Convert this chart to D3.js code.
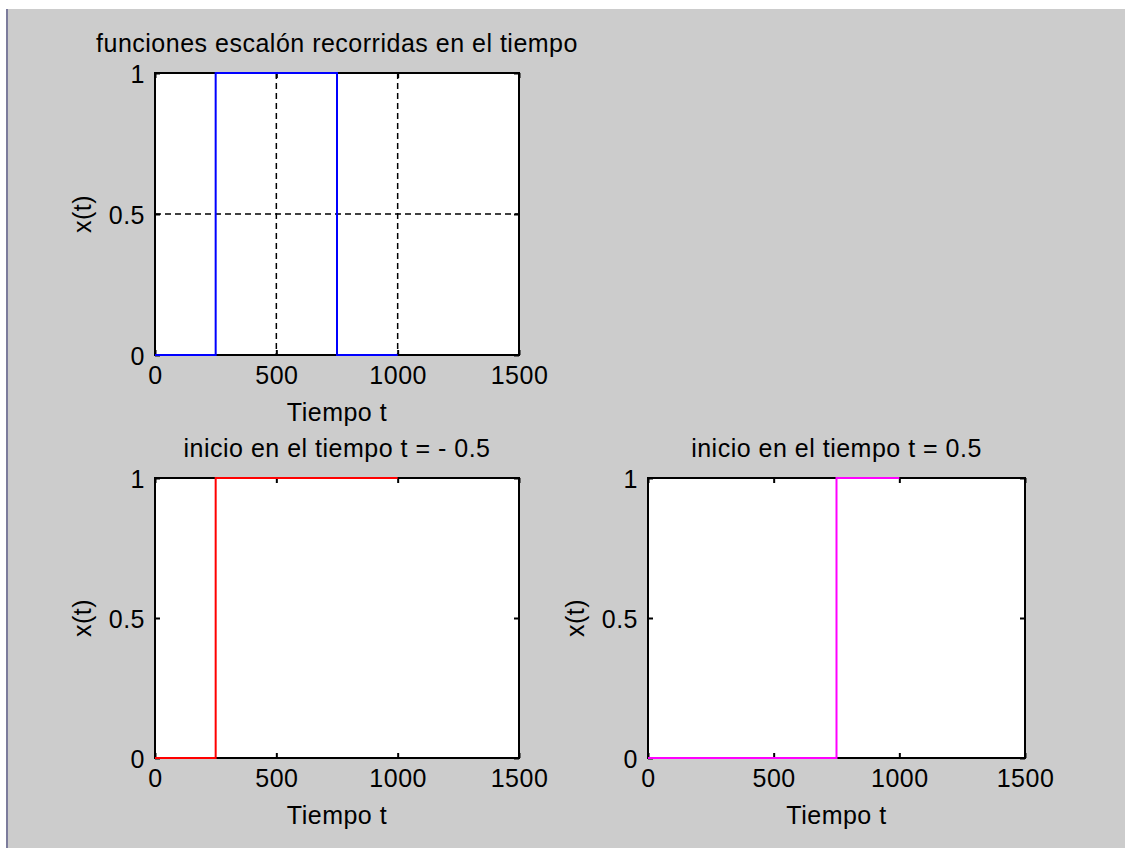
<!DOCTYPE html>
<html>
<head>
<meta charset="utf-8">
<script src="https://cdnjs.cloudflare.com/ajax/libs/d3/7.8.5/d3.min.js"></script>
<style>
  body { margin: 0; background: #fff; }
  svg text { font-family: "Liberation Sans", Arial, sans-serif; font-size: 25px; fill: #000; letter-spacing: 0.5px; }
</style>
</head>
<body>
<svg id="fig" width="1125" height="848"></svg>
<script>
// datos
var xTicks = [0, 500, 1000, 1500];
var yTicks = [0, 0.5, 1];

var titulos = ["funciones escalón recorridas en el tiempo",
               "inicio en el tiempo t = - 0.5",
               "inicio en el tiempo t = 0.5"];

// escalon recortado: sube en 250, baja en 750
var t1 = [0, 250, 250, 750, 750, 1000];
var x1 = [0, 0, 1, 1, 0, 0];
// escalon desplazado, inicio en 250
var t2 = [0, 250, 250, 1000];
var x2 = [0, 0, 1, 1];
// escalon desplazado, inicio en 750
var t3 = [0, 750, 750, 1000];
var x3 = [0, 0, 1, 1];

var colores = ["#0000ff", "#ff0000", "#ff00ff"];

var svg = d3.select("#fig");

// fondo de la ventana
svg.append("rect").attr("x", 0).attr("y", 0).attr("width", 1125).attr("height", 848).attr("fill", "#ffffff");
svg.append("rect").attr("x", 6).attr("y", 9).attr("width", 1119).attr("height", 839).attr("fill", "#cccccc");
svg.append("rect").attr("x", 6).attr("y", 9).attr("width", 2).attr("height", 839).attr("fill", "#7c7c9c");

var paneles = [
    { left: 155, top: 73, w: 364, h: 282, t: t1, v: x1, grid: true },
    { left: 155, top: 478, w: 364, h: 280, t: t2, v: x2, grid: false },
    { left: 648, top: 478, w: 377, h: 280, t: t3, v: x3, grid: false }
];

paneles.forEach(function(p, i) {
    var g = svg.append("g").attr("transform", "translate(" + p.left + "," + p.top + ")");

    var x = d3.scaleLinear().domain([0, 1500]).range([0, p.w]);
    var y = d3.scaleLinear().domain([0, 1]).range([p.h, 0]);

    g.append("rect")
        .attr("width", p.w).attr("height", p.h)
        .attr("fill", "#fff");

    if (p.grid) {
        g.append("g").selectAll("line")
            .data(xTicks.slice(1, -1))
            .enter().append("line")
            .attr("x1", function(d) { return x(d); })
            .attr("x2", function(d) { return x(d); })
            .attr("y1", 0).attr("y2", p.h)
            .attr("stroke", "#000").attr("stroke-width", 1.5)
            .attr("stroke-dasharray", "6,4");
        g.append("g").selectAll("line")
            .data(yTicks.slice(1, -1))
            .enter().append("line")
            .attr("y1", function(d) { return y(d); })
            .attr("y2", function(d) { return y(d); })
            .attr("x1", 0).attr("x2", p.w)
            .attr("stroke", "#000").attr("stroke-width", 1.5)
            .attr("stroke-dasharray", "6,4");
    }

    // ejes con marcas hacia dentro
    var ab = g.append("g").attr("transform", "translate(0," + p.h + ")")
        .call(d3.axisBottom(x).tickValues(xTicks).tickSize(-5).tickPadding(14).tickFormat(d3.format("d")));
    var at = g.append("g")
        .call(d3.axisTop(x).tickValues(xTicks).tickSize(-5).tickFormat(""));
    var al = g.append("g")
        .call(d3.axisLeft(y).tickValues(yTicks).tickSize(-5).tickPadding(10).tickFormat(function(d) { return d; }));
    var ar = g.append("g").attr("transform", "translate(" + p.w + ",0)")
        .call(d3.axisRight(y).tickValues(yTicks).tickSize(-5).tickFormat(""));

    [ab, at, al, ar].forEach(function(a) {
        a.select(".domain").remove();
        a.selectAll(".tick line").attr("stroke", "#000").attr("stroke-width", 2);
        a.selectAll("text").attr("font-size", null).attr("font-family", null).attr("fill", "#000");
    });
    ab.selectAll("text").attr("dy", "0.71em").attr("y", 11);
    al.selectAll("text").attr("dy", "0.36em");

    // marco
    g.append("rect")
        .attr("width", p.w).attr("height", p.h)
        .attr("fill", "none").attr("stroke", "#000").attr("stroke-width", 2);

    // senal
    var pts = p.t.map(function(d, k) { return [d, p.v[k]]; });
    var linea = d3.line()
        .x(function(d) { return x(d[0]); })
        .y(function(d) { return y(d[1]); });
    g.append("path")
        .attr("d", linea(pts))
        .attr("fill", "none")
        .attr("stroke", colores[i])
        .attr("stroke-width", 2);

    // textos
    g.append("text")
        .attr("x", p.w / 2).attr("y", -21)
        .attr("text-anchor", "middle")
        .text(titulos[i]);
    g.append("text")
        .attr("x", p.w / 2).attr("y", p.h + 66)
        .attr("text-anchor", "middle")
        .text("Tiempo t");
    g.append("text")
        .attr("transform", "translate(-64," + (p.h / 2) + ") rotate(-90)")
        .attr("text-anchor", "middle")
        .text("x(t)");
});
</script>
</body>
</html>
